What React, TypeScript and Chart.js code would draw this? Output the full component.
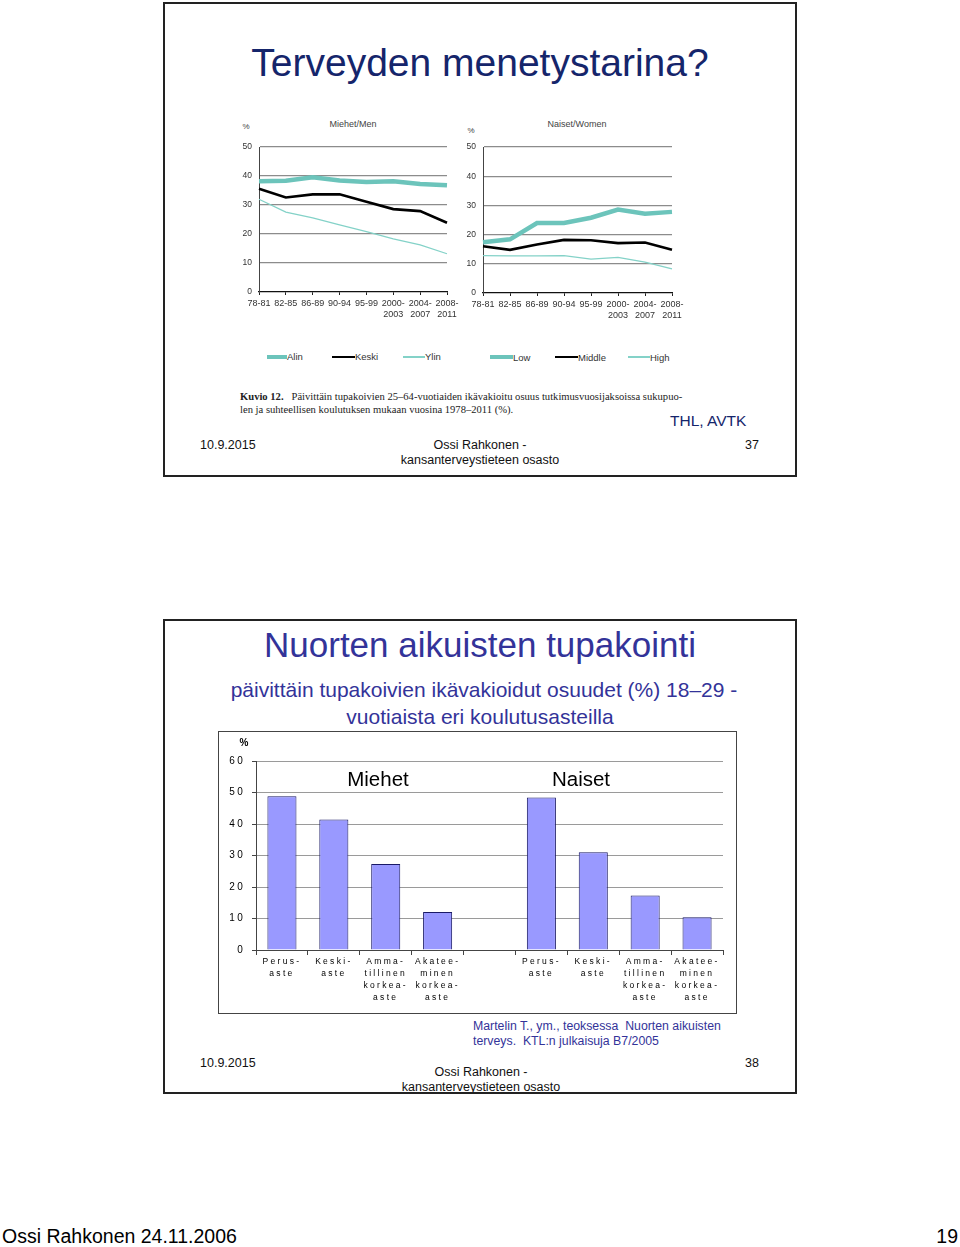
import React, { useEffect, useRef } from 'react';
import { Chart, registerables } from 'chart.js';

Chart.register(...registerables);

const FONT = 'Liberation Sans, Arial, Helvetica, sans-serif';
const SERIF = 'Liberation Serif, Times New Roman, serif';

// ---- Slide 37 data ----
const periods: (string | string[])[] = ['78-81', '82-85', '86-89', '90-94', '95-99', ['2000-', '2003'], ['2004-', '2007'], ['2008-', '2011']];
const lineYTicks = [0, 10, 20, 30, 40, 50];
const menAlin = [38.2, 38.4, 39.6, 38.5, 38.0, 38.2, 37.3, 36.8];
const menKeski = [35.6, 32.6, 33.7, 33.7, 31.1, 28.6, 27.9, 23.9];
const menYlin = [32.0, 27.6, 25.6, 23.2, 20.8, 18.3, 16.3, 13.2];
const womenLow = [17.4, 18.4, 24.0, 24.0, 25.8, 28.6, 27.2, 27.8];
const womenMiddle = [16.0, 14.8, 16.6, 18.2, 18.1, 17.1, 17.3, 14.8];
const womenHigh = [12.8, 12.7, 12.7, 12.8, 11.6, 12.2, 10.6, 8.3];
const menLegend = ['Alin', 'Keski', 'Ylin'];
const womenLegend = ['Low', 'Middle', 'High'];

// ---- Slide 38 data ----
const eduLabels: (string | string[])[] = [
  ['Perus-', 'aste'], ['Keski-', 'aste'], ['Amma-', 'tillinen', 'korkea-', 'aste'], ['Akatee-', 'minen', 'korkea-', 'aste'],
  '',
  ['Perus-', 'aste'], ['Keski-', 'aste'], ['Amma-', 'tillinen', 'korkea-', 'aste'], ['Akatee-', 'minen', 'korkea-', 'aste'],
];
const youngSmokers = [48.8, 41.4, 27.3, 12.1, null, 48.4, 31.0, 17.3, 10.4];
const barYTicks = [0, 10, 20, 30, 40, 50, 60];

const TEAL = '#6cc4bb';
const TEAL_THIN = '#84d2c8';

type Series = { label: string; data: number[]; color: string; width: number };

function LineChart(props: {
  labels: (string | string[])[]; series: Series[]; left: number; top: number; width: number; height: number;
  yAxisW: number; rightPad: number; topPad: number; xAxisH: number;
}) {
  const ref = useRef<HTMLCanvasElement>(null);
  useEffect(() => {
    const chart = new Chart(ref.current!, {
      type: 'line',
      data: {
        labels: props.labels as any,
        datasets: props.series.map((s) => ({
          label: s.label, data: s.data, borderColor: s.color, backgroundColor: s.color,
          borderWidth: s.width, pointRadius: 0, tension: 0, fill: false,
        })),
      },
      options: {
        responsive: false,
        animation: false,
        layout: { padding: { top: props.topPad, right: props.rightPad, left: 0, bottom: 0 } },
        plugins: { legend: { display: false }, tooltip: { enabled: false }, title: { display: false } },
        scales: {
          x: {
            offset: false,
            grid: { display: true, drawOnChartArea: false, drawTicks: true, tickLength: 3, tickColor: '#222', color: '#222' },
            border: { display: true, color: '#111', width: 1.3 },
            ticks: { autoSkip: false, maxRotation: 0, minRotation: 0, padding: 3, color: '#333', font: { family: FONT, size: 9 } },
            afterFit: (s: any) => { s.height = props.xAxisH; },
          },
          y: {
            min: 0, max: 50,
            afterBuildTicks: (s: any) => { s.ticks = lineYTicks.map((v) => ({ value: v })); },
            grid: {
              drawTicks: false,
              color: (c: any) => (c.tick && c.tick.value === 0 ? 'rgba(0,0,0,0)' : '#8c8c8c'),
              lineWidth: 1.3,
            },
            border: { display: true, color: '#444', width: 1 },
            ticks: { padding: 7, color: '#333', font: { family: FONT, size: 8.5 } },
            afterFit: (s: any) => { s.width = props.yAxisW; },
          },
        },
      },
    });
    return () => chart.destroy();
  }, []);
  return (
    <canvas ref={ref} width={props.width} height={props.height}
      style={{ position: 'absolute', left: props.left, top: props.top, width: props.width, height: props.height }} />
  );
}

function BarChart(props: { left: number; top: number; width: number; height: number }) {
  const ref = useRef<HTMLCanvasElement>(null);
  useEffect(() => {
    const spacing = {
      id: 'spacing',
      beforeDraw: (chart: any) => { (chart.ctx as any).letterSpacing = '2.3px'; },
    };
    const chart = new Chart(ref.current!, {
      type: 'bar',
      data: {
        labels: eduLabels as any,
        datasets: [{
          label: '%', data: youngSmokers as any, backgroundColor: '#9999ff', borderColor: '#1a1a66',
          borderWidth: 1, barPercentage: 0.7, categoryPercentage: 0.8,
        }],
      },
      options: {
        responsive: false,
        animation: false,
        layout: { padding: { top: 29, right: 13, left: 0, bottom: 0 } },
        plugins: { legend: { display: false }, tooltip: { enabled: false } },
        scales: {
          x: {
            offset: true,
            grid: { display: true, offset: true, drawOnChartArea: false, drawTicks: true, tickLength: 5, tickColor: '#444', color: '#444' },
            border: { display: true, color: '#444', width: 1 },
            ticks: { autoSkip: false, maxRotation: 0, minRotation: 0, padding: 1, color: '#000', font: { family: FONT, size: 8.5, lineHeight: '12px' } },
            afterFit: (s: any) => { s.height = 62; },
          },
          y: {
            min: 0, max: 60,
            afterBuildTicks: (s: any) => { s.ticks = barYTicks.map((v) => ({ value: v })); },
            grid: {
              drawTicks: true, tickLength: 4, tickColor: '#444',
              color: (c: any) => (c.tick && c.tick.value === 0 ? 'rgba(0,0,0,0)' : '#9a9a9a'),
              lineWidth: 1,
            },
            border: { display: true, color: '#444', width: 1 },
            ticks: { padding: 7, color: '#000', font: { family: FONT, size: 10 } },
            afterFit: (s: any) => { s.width = 37; },
          },
        },
      },
      plugins: [spacing],
    });
    return () => chart.destroy();
  }, []);
  return (
    <canvas ref={ref} width={props.width} height={props.height}
      style={{ position: 'absolute', left: props.left, top: props.top, width: props.width, height: props.height }} />
  );
}

// Text helper: positioned by baseline
function T(p: {
  x: number; b: number; size: number; children: React.ReactNode; align?: 'left' | 'center' | 'right';
  color?: string; family?: string; weight?: string | number; spacing?: number;
}) {
  const align = p.align || 'left';
  const w = 700;
  let left = p.x;
  if (align === 'center') left = p.x - w / 2;
  if (align === 'right') left = p.x - w;
  return (
    <div style={{
      position: 'absolute', left, top: p.b - 0.8465 * p.size, width: w, height: p.size,
      lineHeight: p.size + 'px', fontSize: p.size, fontFamily: p.family || FONT, color: p.color || '#000',
      textAlign: align, whiteSpace: 'pre', fontWeight: (p.weight as any) || 'normal', letterSpacing: p.spacing,
    }}>{p.children}</div>
  );
}

function Swatch(p: { x: number; y: number; w: number; h: number; color: string }) {
  return <div style={{ position: 'absolute', left: p.x, top: p.y - p.h / 2, width: p.w, height: p.h, background: p.color }} />;
}

export default function App() {
  const navy = '#15256b';
  const blue = '#333399';
  return (
    <div style={{ position: 'absolute', left: 0, top: 0, width: 960, height: 1247, background: '#fff', overflow: 'hidden' }}>
      {/* ---------- Slide 37 ---------- */}
      <T x={480} b={76} size={39} align="center" color={navy}>Terveyden menetystarina?</T>

      <T x={246} b={130} size={8} align="center" color="#444">%</T>
      <T x={353} b={128} size={9} align="center" color="#444">Miehet/Men</T>
      <T x={471} b={134} size={8} align="center" color="#444">%</T>
      <T x={577} b={128} size={9} align="center" color="#444">Naiset/Women</T>

      <LineChart labels={periods} left={230} top={135} width={240} height={191} yAxisW={29} rightPad={23} topPad={6} xAxisH={34}
        series={[
          { label: menLegend[0], data: menAlin, color: TEAL, width: 4.5 },
          { label: menLegend[1], data: menKeski, color: '#000', width: 2.6 },
          { label: menLegend[2], data: menYlin, color: TEAL_THIN, width: 1.3 },
        ]} />
      <LineChart labels={periods} left={458} top={135} width={240} height={192} yAxisW={25} rightPad={26} topPad={6} xAxisH={34}
        series={[
          { label: womenLegend[0], data: womenLow, color: TEAL, width: 4.5 },
          { label: womenLegend[1], data: womenMiddle, color: '#000', width: 2.6 },
          { label: womenLegend[2], data: womenHigh, color: TEAL_THIN, width: 1.3 },
        ]} />

      {/* legends */}
      <Swatch x={267} y={357} w={20} h={4} color={TEAL} />
      <T x={287} b={360} size={9.5} color="#333">{menLegend[0]}</T>
      <Swatch x={332} y={357} w={23} h={2.6} color="#000" />
      <T x={355} b={360} size={9.5} color="#333">{menLegend[1]}</T>
      <Swatch x={403} y={357} w={22} h={1.3} color={TEAL_THIN} />
      <T x={425} b={360} size={9.5} color="#333">{menLegend[2]}</T>
      <Swatch x={490} y={357} w={23} h={4} color={TEAL} />
      <T x={513} b={361} size={9.5} color="#333">{womenLegend[0]}</T>
      <Swatch x={555} y={357} w={23} h={2.6} color="#000" />
      <T x={578} b={361} size={9.5} color="#333">{womenLegend[1]}</T>
      <Swatch x={628} y={357} w={22} h={1.3} color={TEAL_THIN} />
      <T x={650} b={361} size={9.5} color="#333">{womenLegend[2]}</T>

      <T x={240} b={401} size={10.6} family={SERIF} color="#222"><b>Kuvio 12.</b>{'   Päivittäin tupakoivien 25–64-vuotiaiden ikävakioitu osuus tutkimusvuosijaksoissa sukupuo-'}</T>
      <T x={240} b={414} size={10.6} family={SERIF} color="#222">len ja suhteellisen koulutuksen mukaan vuosina 1978–2011 (%).</T>

      <T x={670} b={426} size={15.5} color={navy}>THL, AVTK</T>
      <T x={200} b={450} size={12.5} color="#111">10.9.2015</T>
      <T x={480} b={450} size={12.5} align="center" color="#111">Ossi Rahkonen -</T>
      <T x={480} b={465} size={12.5} align="center" color="#111">kansanterveystieteen osasto</T>
      <T x={759} b={450} size={12.5} align="right" color="#111">37</T>

      <div style={{ position: 'absolute', left: 163, top: 2, width: 634, height: 475, border: '2px solid #222', boxSizing: 'border-box', zIndex: 5 }} />

      {/* ---------- Slide 38 ---------- */}
      <T x={480} b={657} size={35} align="center" color={blue}>Nuorten aikuisten tupakointi</T>
      <T x={484} b={697} size={21} align="center" color={blue}>päivittäin tupakoivien ikävakioidut osuudet (%) 18–29 -</T>
      <T x={480} b={724} size={21} align="center" color={blue}>vuotiaista eri koulutusasteilla</T>

      <div style={{ position: 'absolute', left: 218, top: 731, width: 519, height: 283, border: '1px solid #444', boxSizing: 'border-box' }} />
      <BarChart left={219} top={732} width={517} height={280} />
      <T x={244} b={746} size={10} align="center" color="#000" weight="bold">%</T>
      <T x={378} b={786} size={20.5} align="center" color="#000">Miehet</T>
      <T x={581} b={786} size={20.5} align="center" color="#000">Naiset</T>

      <T x={473} b={1030} size={12.3} color={blue}>Martelin T., ym., teoksessa  Nuorten aikuisten</T>
      <T x={473} b={1045} size={12.3} color={blue}>terveys.  KTL:n julkaisuja B7/2005</T>

      <T x={200} b={1068} size={12.5} color="#111">10.9.2015</T>
      <T x={759} b={1068} size={12.5} align="right" color="#111">38</T>
      <T x={481} b={1077} size={12.5} align="center" color="#111">Ossi Rahkonen -</T>
      <T x={481} b={1092} size={12.5} align="center" color="#111">kansanterveystieteen osasto</T>

      <div style={{ position: 'absolute', left: 163, top: 619, width: 634, height: 475, border: '2px solid #222', boxSizing: 'border-box', zIndex: 5 }} />

      {/* ---------- page footer ---------- */}
      <T x={2} b={1244} size={19.5} color="#000">Ossi Rahkonen 24.11.2006</T>
      <T x={958} b={1244} size={19.5} align="right" color="#000">19</T>
    </div>
  );
}
